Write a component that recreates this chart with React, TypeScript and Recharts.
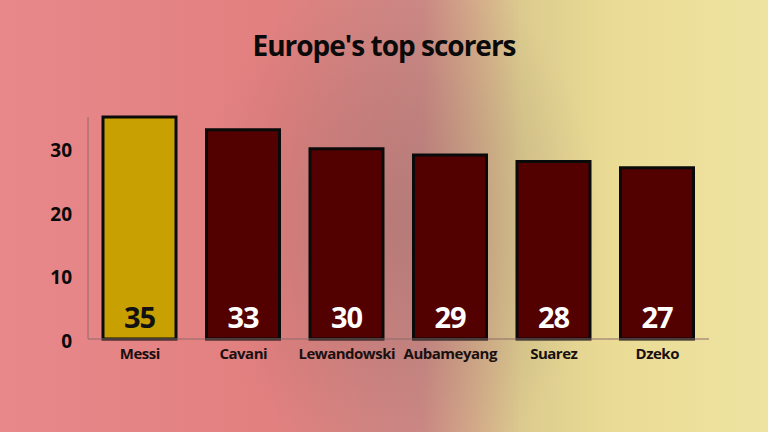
import React from "react";
import { BarChart, Bar, XAxis, YAxis, Cell, LabelList } from "recharts";

const players = ["Messi", "Cavani", "Lewandowski", "Aubameyang", "Suarez", "Dzeko"];
const goals = [35, 33, 30, 29, 28, 27];
const yTicks = [0, 10, 20, 30];

const data = players.map((name, i) => ({ name, goals: goals[i] }));

const font = "'Open Sans', 'DejaVu Sans', sans-serif";

const ValueLabel = (props: any) => {
  const { x, y, width, height, value, index } = props;
  return (
    <text
      x={x + width / 2}
      y={y + height - 11}
      textAnchor="middle"
      fill={index === 0 ? "#111" : "#fff"}
      fontFamily={font}
      fontWeight={700}
      fontSize={29}
      letterSpacing={-1}
    >
      {value}
    </text>
  );
};

const App: React.FC = () => {
  return (
    <div
      style={{
        position: "absolute",
        top: 0,
        left: 0,
        width: 768,
        height: 432,
        overflow: "hidden",
        background:
          "linear-gradient(90deg, #e8888b 0%, #e2807f 35%, #cf8a86 55%, #dccb8e 68%, #eadc95 80%, #efe3a2 100%)",
      }}
    >
      <div
        style={{
          position: "absolute",
          left: 200,
          top: -40,
          width: 400,
          height: 520,
          background:
            "radial-gradient(closest-side, rgba(100,80,80,0.25) 0%, rgba(100,80,80,0.12) 55%, rgba(100,80,80,0) 100%)",
        }}
      />
      <div
        style={{
          position: "absolute",
          top: 26,
          width: 768,
          textAlign: "center",
          fontFamily: font,
          fontWeight: 700,
          fontSize: 28,
          letterSpacing: -1,
          color: "#0a0a0a",
        }}
      >
        Europe's top scorers
      </div>
      <div style={{ position: "absolute", top: 0, left: 0 }}>
        <BarChart
          width={768}
          height={432}
          data={data}
          margin={{ top: 117, right: 59, bottom: 63, left: 0 }}
        >
          <XAxis
            dataKey="name"
            height={30}
            axisLine={{ stroke: "#8c6a6a", strokeWidth: 1 }}
            tickLine={false}
            tick={{ fill: "#1a1010", fontFamily: font, fontWeight: 700, fontSize: 15, letterSpacing: -0.5 }}
            tickMargin={3}
            interval={0}
          />
          <YAxis
            width={88}
            domain={[0, 35]}
            ticks={yTicks}
            axisLine={{ stroke: "#8c6a6a", strokeWidth: 1 }}
            tickLine={false}
            tickMargin={10}
            tick={{ fill: "#0a0a0a", fontFamily: font, fontWeight: 700, fontSize: 19, dy: 2 }}
          />
          <Bar
            dataKey="goals"
            barSize={73}
            stroke="#0a0a0a"
            strokeWidth={3}
            isAnimationActive={false}
          >
            {data.map((d, i) => (
              <Cell key={d.name} fill={i === 0 ? "#c9a002" : "#520000"} />
            ))}
            <LabelList dataKey="goals" content={ValueLabel} />
          </Bar>
        </BarChart>
      </div>
    </div>
  );
};

export default App;
